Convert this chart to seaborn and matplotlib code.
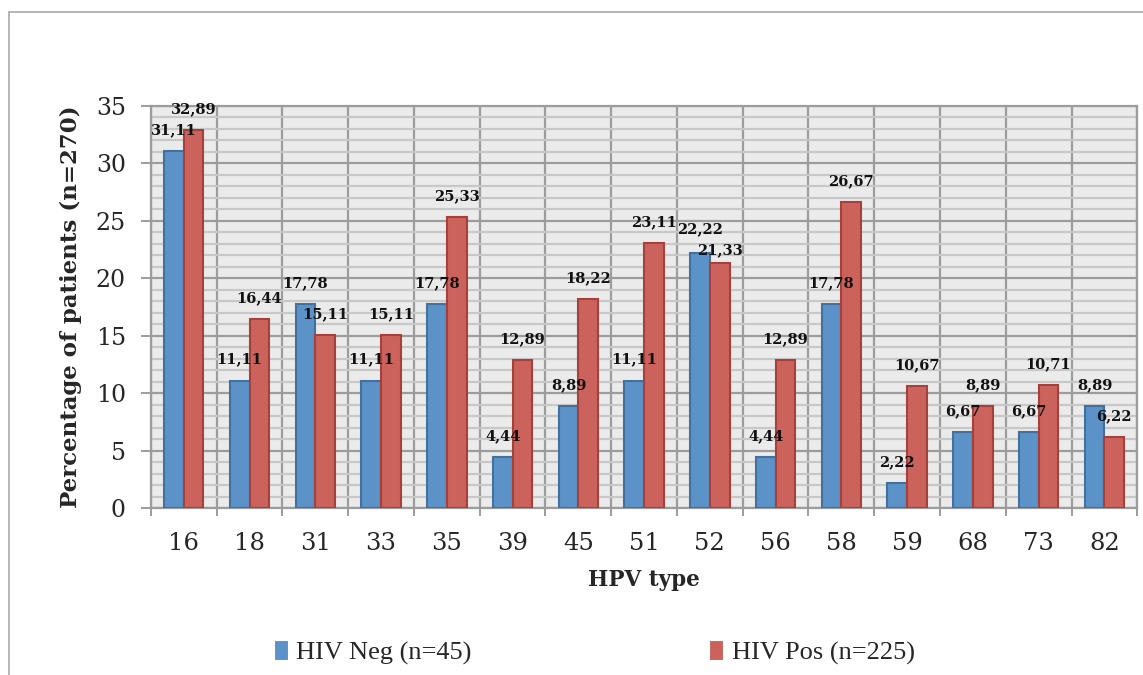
import numpy as np
import pandas as pd
import seaborn as sns
import matplotlib.pyplot as plt
from matplotlib.lines import Line2D
from matplotlib.ticker import MultipleLocator, FixedLocator, NullFormatter


hpv_types = ["16", "18", "31", "33", "35", "39", "45", "51", "52", "56",
             "58", "59", "68", "73", "82"]
hiv_neg = [31.11, 11.11, 17.78, 11.11, 17.78, 4.44, 8.89, 11.11, 22.22,
           4.44, 17.78, 2.22, 6.67, 6.67, 8.89]
hiv_pos = [32.89, 16.44, 15.11, 15.11, 25.33, 12.89, 18.22, 23.11, 21.33,
           12.89, 26.67, 10.67, 8.89, 10.71, 6.22]
series = ["HIV Neg (n=45)", "HIV Pos (n=225)"]

face_colors = ["#5b93c9", "#cc625c"]
edge_colors = ["#41719c", "#a5403b"]

# small vertical nudges (points) so crowded labels don't collide
label_nudge = {(0, "52"): 2, (1, "52"): -6}

df = pd.DataFrame({
    "type": hpv_types * 2,
    "value": hiv_neg + hiv_pos,
    "group": [series[0]] * len(hpv_types) + [series[1]] * len(hpv_types),
})

sns.set_style("white", {"axes.facecolor": "#ebebeb"})
plt.rcParams['font.family'] = ['DejaVu Serif']

fig = plt.figure(figsize=(11.43, 6.75), dpi=100)
ax = fig.add_axes([0.132, 0.247, 0.863, 0.596])

sns.barplot(data=df, x="type", y="value", hue="group", order=hpv_types,
            hue_order=series, palette=face_colors, width=0.6, gap=0,
            saturation=1, linewidth=1.5, ax=ax, legend=True, zorder=3)

pad = 10
for k, (cont, ec, vals) in enumerate(zip(ax.containers, edge_colors, [hiv_neg, hiv_pos])):
    for p in cont:
        p.set_edgecolor(ec)
    texts = ax.bar_label(cont, labels=[f"{v:.2f}".replace(".", ",") for v in vals],
                         padding=pad, fontsize=10.5, fontweight="bold", color="#111111")
    for t, name in zip(texts, hpv_types):
        if (k, name) in label_nudge:
            t.xyann = (0, pad + label_nudge[(k, name)])

ax.set_xlim(-0.5, len(hpv_types) - 0.5)
ax.set_ylim(0, 35)

# grid: major every 5, minor every 1, verticals at category boundaries
ax.yaxis.set_major_locator(MultipleLocator(5))
ax.yaxis.set_minor_locator(MultipleLocator(1))
ax.xaxis.set_major_locator(FixedLocator(np.arange(-0.5, len(hpv_types), 1)))
ax.xaxis.set_major_formatter(NullFormatter())
ax.xaxis.set_minor_locator(FixedLocator(np.arange(len(hpv_types))))
ax.set_xticklabels(hpv_types, minor=True)

ax.grid(True, which="major", axis="both", color="#9c9c9c", linewidth=1.6, zorder=0)
ax.yaxis.grid(True, which="minor", color="#c8c8c8", linewidth=1.6, zorder=0)
ax.set_axisbelow(True)

ax.tick_params(axis="y", which="major", length=7, width=1.4, color="#9c9c9c",
               labelsize=17, pad=11, direction="out", left=True)
ax.tick_params(axis="y", which="minor", length=0)
ax.tick_params(axis="x", which="major", length=6, width=1.4, color="#9c9c9c",
               direction="out", bottom=True)
ax.tick_params(axis="x", which="minor", length=0, labelsize=17.5, pad=17)

for s in ax.spines.values():
    s.set_color("#9c9c9c")
    s.set_linewidth(1.6)

ax.set_xlabel("HPV type", fontsize=15.5, fontweight="bold", labelpad=10)
ax.set_ylabel("Percentage of patients (n=270)", fontsize=16.5, fontweight="bold",
              labelpad=10)

handles, labels = ax.get_legend_handles_labels()
ax.get_legend().remove()
fig.legend(handles, labels, loc="center", bbox_to_anchor=(0.52, 0.033),
           ncol=2, frameon=False, columnspacing=9,
           handlelength=0.55, handleheight=0.8, handletextpad=0.3,
           prop={"family": "Liberation Serif", "size": 19})

# outer chart frame
fig.add_artist(Line2D([9 / 1143, 9 / 1143], [0, 1 - 12 / 675],
                      color="#aaaaaa", linewidth=1.2))
fig.add_artist(Line2D([9 / 1143, 1], [1 - 12 / 675, 1 - 12 / 675],
                      color="#aaaaaa", linewidth=1.2))

fig.savefig("out.png", dpi=100)
